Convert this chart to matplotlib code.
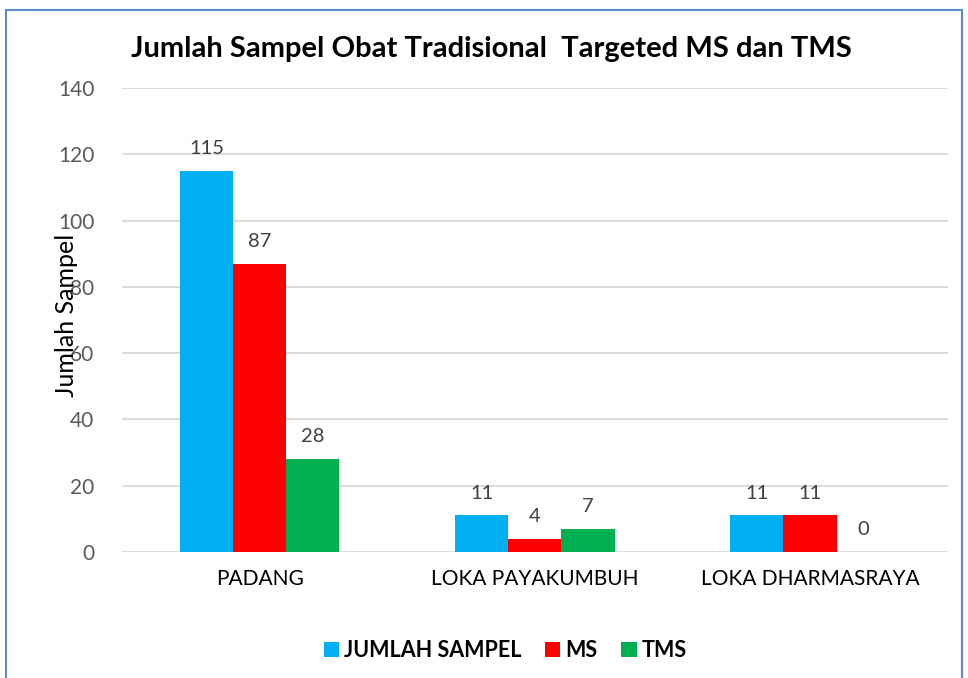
import matplotlib.pyplot as plt
import numpy as np
from matplotlib.patches import Rectangle

categories = ["PADANG", "LOKA PAYAKUMBUH", "LOKA DHARMASRAYA"]
series_names = ["JUMLAH SAMPEL", "MS", "TMS"]
jumlah_sampel = [115, 11, 11]
ms = [87, 4, 11]
tms = [28, 7, 0]
colors = ["#00B0F0", "#FF0000", "#00B050"]

plt.rcParams["font.family"] = ["Lato", "DejaVu Sans"]


def main():
    fig = plt.figure(figsize=(9.68, 6.78), dpi=100)
    ax = fig.add_axes([0.126, 0.186, 0.853, 0.684])

    x = np.arange(len(categories))
    width = 0.193
    values = [jumlah_sampel, ms, tms]
    for i, (name, vals, col) in enumerate(zip(series_names, values, colors)):
        pos = x + (i - 1) * width
        bars = ax.bar(pos, vals, width=width, color=col, label=name, zorder=3)
        ax.bar_label(bars, labels=[str(v) for v in vals], padding=10,
                     fontsize=14.5, color="#404040")

    ax.set_xlim(-0.5, 2.5)
    ax.set_ylim(0, 140)
    ax.set_yticks(range(0, 141, 20))
    ax.set_xticks(x)
    ax.set_xticklabels(categories, fontsize=15, color="#000000")
    ax.tick_params(axis="y", labelsize=15, labelcolor="#595959", length=0, pad=20)
    ax.tick_params(axis="x", length=0, pad=12)
    ax.grid(axis="y", color="#D9D9D9", linewidth=1.3, zorder=0)
    for side in ["top", "right", "left", "bottom"]:
        ax.spines[side].set_visible(False)

    ax.text(-0.067, 0.51, "Jumlah Sampel", rotation=90, transform=ax.transAxes,
            ha="center", va="center", fontsize=18, color="#000000")

    fig.text(0.508, 0.928, "Jumlah Sampel Obat Tradisional  Targeted MS dan TMS",
             ha="center", va="center", fontsize=21, fontweight="bold")

    fig.legend(loc="center", bbox_to_anchor=(0.522, 0.04), ncol=3, frameon=False,
               prop={"weight": "bold", "size": 15.5},
               handlelength=0.7, handleheight=0.7, columnspacing=1.1,
               handletextpad=0.25)

    fig.patches.append(Rectangle((6 / 968, -0.05), 956 / 968, 1 - 10 / 678 + 0.05,
                                 transform=fig.transFigure, fill=False,
                                 edgecolor="#5B8BD0", linewidth=1.5))

    fig.savefig("out.png", dpi=100)
    plt.close(fig)


if __name__ == "__main__":
    main()
